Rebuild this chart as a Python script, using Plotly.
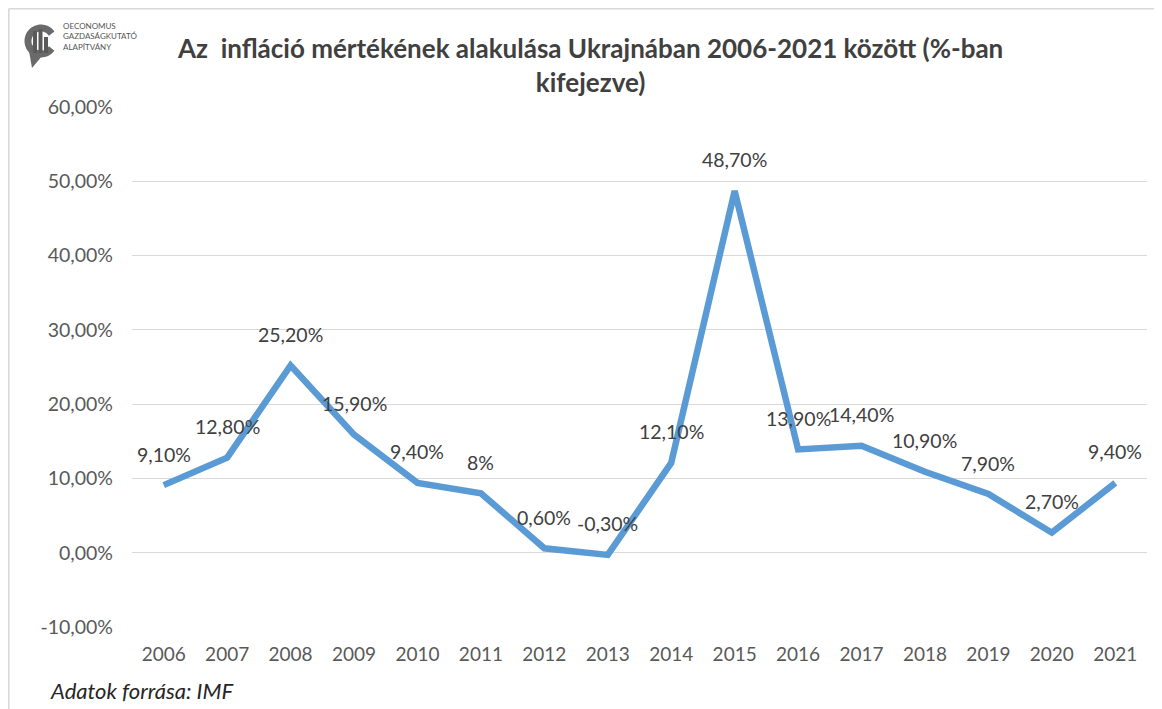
import numpy as np
import plotly.graph_objects as go

years = ["2006", "2007", "2008", "2009", "2010", "2011", "2012", "2013",
         "2014", "2015", "2016", "2017", "2018", "2019", "2020", "2021"]
inflation = [9.1, 12.8, 25.2, 15.9, 9.4, 8.0, 0.6, -0.3,
             12.1, 48.7, 13.9, 14.4, 10.9, 7.9, 2.7, 9.4]
labels = ["9,10%", "12,80%", "25,20%", "15,90%", "9,40%", "8%", "0,60%", "-0,30%",
          "12,10%", "48,70%", "13,90%", "14,40%", "10,90%", "7,90%", "2,70%", "9,40%"]
ytick_vals = [-10, 0, 10, 20, 30, 40, 50, 60]
ytick_text = ["-10,00%", "0,00%", "10,00%", "20,00%", "30,00%", "40,00%", "50,00%", "60,00%"]

title_text = "Az  infláció mértékének alakulása Ukrajnában 2006-2021 között (%-ban<br>kifejezve)"
source_text = "Adatok forrása: IMF"

# the page body has an 8px margin; work in page coordinates and subtract it
O = 8
W, H = 1162 - O, 709 - O
L, R, T, B = 132 - O, 15, 107 - O, 82
PW, PH = W - L - R, H - T - B


def px(x):
    return (x - O - L) / PW


def py(y):
    return (H - B - (y - O)) / PH


FONT = "Lato, 'Open Sans', sans-serif"

fig = go.Figure()
fig.add_trace(go.Scatter(
    x=years, y=inflation, mode="lines",
    line=dict(color="#5B9BD5", width=6.5),
    hoverinfo="skip", showlegend=False,
))

annotations = []
for i, (v, lab) in enumerate(zip(inflation, labels)):
    annotations.append(dict(
        x=i, y=v, xref="x", yref="y", text=lab, showarrow=False,
        yanchor="middle", xanchor="center", yshift=31,
        font=dict(family=FONT, size=19.5, color="#404040"),
    ))

# title
annotations.append(dict(
    x=px(590), y=py(65), xref="paper", yref="paper", text=title_text,
    showarrow=False, xanchor="center", yanchor="middle", align="center",
    font=dict(family=FONT, size=26, color="#404040", weight="bold"),
))
# source
annotations.append(dict(
    x=px(48), y=py(690), xref="paper", yref="paper",
    text="<i>" + source_text + "</i>", showarrow=False,
    xanchor="left", yanchor="middle",
    font=dict(family=FONT, size=22, color="#262626"),
))
# logo text
annotations.append(dict(
    x=px(61), y=py(36), xref="paper", yref="paper",
    text="OECONOMUS<br>GAZDASÁGKUTATÓ<br>ALAPÍTVÁNY", showarrow=False,
    xanchor="left", yanchor="middle", align="left",
    font=dict(family=FONT, size=8, color="#555555"),
))

shapes = []
# chart border (top and left)
shapes.append(dict(type="line", xref="paper", yref="paper",
                   x0=px(8.8), x1=px(1170), y0=py(8.8), y1=py(8.8),
                   line=dict(color="#D9D9D9", width=1.6)))
shapes.append(dict(type="line", xref="paper", yref="paper",
                   x0=px(8.8), x1=px(8.8), y0=py(8.8), y1=py(715),
                   line=dict(color="#D9D9D9", width=1.6)))

# logo: C-shaped ring
cx, cy, r = 41, 41, 13
ang = np.linspace(np.radians(35), np.radians(325), 50)
pts = [(px(cx + r * np.cos(a)), py(cy - r * np.sin(a))) for a in ang]
path = "M " + " L ".join(f"{a:.5f},{b:.5f}" for a, b in pts)
shapes.append(dict(type="path", xref="paper", yref="paper", path=path,
                   line=dict(color="#6A6A6A", width=7)))
# speech tail
tail = [(29, 51), (32, 68), (42, 56)]
path = "M " + " L ".join(f"{px(a):.5f},{py(b):.5f}" for a, b in tail) + " Z"
shapes.append(dict(type="path", xref="paper", yref="paper", path=path,
                   fillcolor="#6A6A6A", line=dict(width=0)))
# bars
for x0, y0 in [(33, 31), (38.5, 29), (44, 37)]:
    shapes.append(dict(type="rect", xref="paper", yref="paper",
                       x0=px(x0), x1=px(x0 + 4), y0=py(53), y1=py(y0),
                       fillcolor="#5A5A5A", line=dict(width=0)))

fig.update_layout(
    width=W, height=H,
    margin=dict(l=L, r=R, t=T, b=B, autoexpand=False),
    paper_bgcolor="white", plot_bgcolor="white",
    annotations=annotations, shapes=shapes,
    xaxis=dict(type="category", range=[-0.5, 15.5], showgrid=False,
               zeroline=False, showline=False, ticks="", automargin=False,
               tickfont=dict(family=FONT, size=19, color="#595959"),
               ticklabelstandoff=14),
    yaxis=dict(range=[-10, 60], tickvals=ytick_vals, ticktext=ytick_text,
               showgrid=True, gridcolor="#D9D9D9", gridwidth=1.3,
               zeroline=False, showline=False, ticks="", automargin=False,
               tickfont=dict(family=FONT, size=19.5, color="#595959"),
               ticklabelstandoff=18),
    showlegend=False,
)

fig.write_html("out.html")
